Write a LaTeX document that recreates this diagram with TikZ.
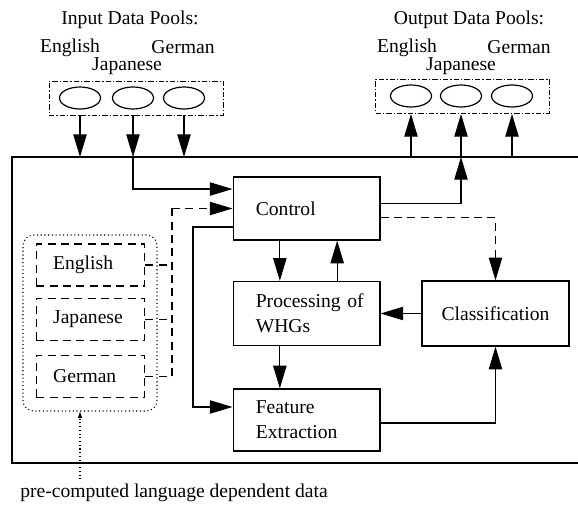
\documentclass[tikz,border=0pt]{standalone}
\usepackage{fontspec}
\setmainfont{Liberation Serif}
\usetikzlibrary{shapes.geometric,arrows.meta,positioning}
\tikzstyle{arr} = [draw, -{Triangle[length=17pt,width=10pt]}, line width=0.8pt]
\tikzstyle{smallarr} = [draw, dotted, -{Triangle[length=5pt,width=3pt]}, line width=0.8pt]
\tikzstyle{box} = [draw, line width=1pt, inner xsep=17pt, text width=76pt, align=left, minimum height=48pt]
\tikzstyle{langbox} = [draw, dashed, dash pattern=on 6pt off 4pt, line width=0.9pt, inner xsep=12.75pt, text width=56pt, align=left, minimum height=31.5pt]
\tikzstyle{pool} = [draw, line width=0.7pt, dash pattern=on 4pt off 1.5pt on 1pt off 1.5pt, minimum width=130.5pt, minimum height=25.5pt]
\tikzstyle{ell} = [draw, ellipse, line width=0.9pt, minimum width=30.75pt, minimum height=16.5pt, inner sep=0pt]

\begin{document}
\begin{tikzpicture}[x=0.75pt, y=-0.75pt, font=\fontsize{14.7}{17.5}\selectfont]
\useasboundingbox (0,0) rectangle (578,505);

% outer system frame (open on the right)
\draw[line width=1pt] (578,157) -- (12,157) -- (12,463) -- (578,463);
\coordinate (ftop) at (0,157);

% input pools
\node at (130,20) {Input Data Pools:};
\node at (70,48) {English};
\node at (127,66) {Japanese};
\node at (183,47) {German};
\node [pool] (inpool) at (136,98) {};
\node [ell] (inE) at (80,98) {};
\node [ell] (inJ) at (133,98) {};
\node [ell] (inG) at (184,98) {};

% output pools
\node at (469,20) {Output Data Pools:};
\node at (407,48) {English};
\node at (461,66) {Japanese};
\node at (519,47) {German};
\node [pool] (outpool) at (462.5,96.5) {};
\node [ell] (outE) at (411,96) {};
\node [ell] (outJ) at (461,96) {};
\node [ell] (outG) at (512,96) {};

% processing modules
\node [box, minimum height=47.25pt] (ctrl) at (306.5,208.5) {Control};
\node [box] (proc) at (306.5,313.5) {\mbox{Processing of}\\[1pt]WHGs};
\node [box, minimum height=46.5pt] (fe) at (306.5,420) {Feature\\[1pt]Extraction};
\node [draw, line width=1pt, minimum width=110.25pt, minimum height=48.75pt] (cls) at (495.5,313.5) {Classification};

% language dependent data
\node [draw, dotted, line width=0.8pt, rounded corners=8pt, minimum width=100.5pt, minimum height=132pt] (langs) at (90,323) {};
\node [langbox] (en) at (90.5,265) {English};
\node [langbox] (ja) at (90.5,319.5) {Japanese};
\node [langbox] (de) at (90.5,376.5) {German};
\node (note) at (174,493) {pre-computed language dependent data};
\coordinate (bus) at (172,208.5);
\coordinate (np) at (80,0);
\coordinate (fbus) at (193,407);

% data pools <-> system
\foreach \p in {inE,inJ,inG}
  \draw[arr] (inpool.south -| \p) -- (\p |- ftop);
\foreach \p in {outE,outJ,outG}
  \draw[arr] (\p |- ftop) -- (outpool.south -| \p);

% control flow
\draw[arr] (inJ |- ftop) |- ([yshift=14.6pt]ctrl.west);
\draw[arr] ([yshift=3.75pt]ctrl.east) -| (outJ |- ftop);
\draw[arr] ([yshift=-13.9pt]ctrl.west) -| (fbus) -- (fbus -| fe.west);
\draw[arr] ([xshift=-20pt]ctrl.south) -- ([xshift=-20pt]proc.north);
\draw[arr] ([xshift=23pt]proc.north) -- ([xshift=23pt]ctrl.south);
\draw[arr] ([xshift=-20pt]proc.south) -- ([xshift=-20pt]fe.north);
\draw[arr] (cls.west) -- (proc.east);
\draw[arr] ([yshift=-2.25pt]fe.east) -| (cls.south);
\draw[arr, dashed, dash pattern=on 6pt off 4pt] ([yshift=-7.1pt]ctrl.east) -| (cls.north);

% language data into control
\foreach \l in {en,ja,de}
  \draw[dashed, dash pattern=on 6pt off 4pt, line width=0.8pt] (\l.east) -- (\l.east -| bus);
\draw[dashed, dash pattern=on 6pt off 4pt, line width=0.8pt] (de.east -| bus) -- (bus);
\draw[arr, dashed, dash pattern=on 6pt off 4pt] (bus) -- (ctrl.west);

\draw[smallarr] (note.north -| np) -- (langs.south -| np);

\end{tikzpicture}
\end{document}
